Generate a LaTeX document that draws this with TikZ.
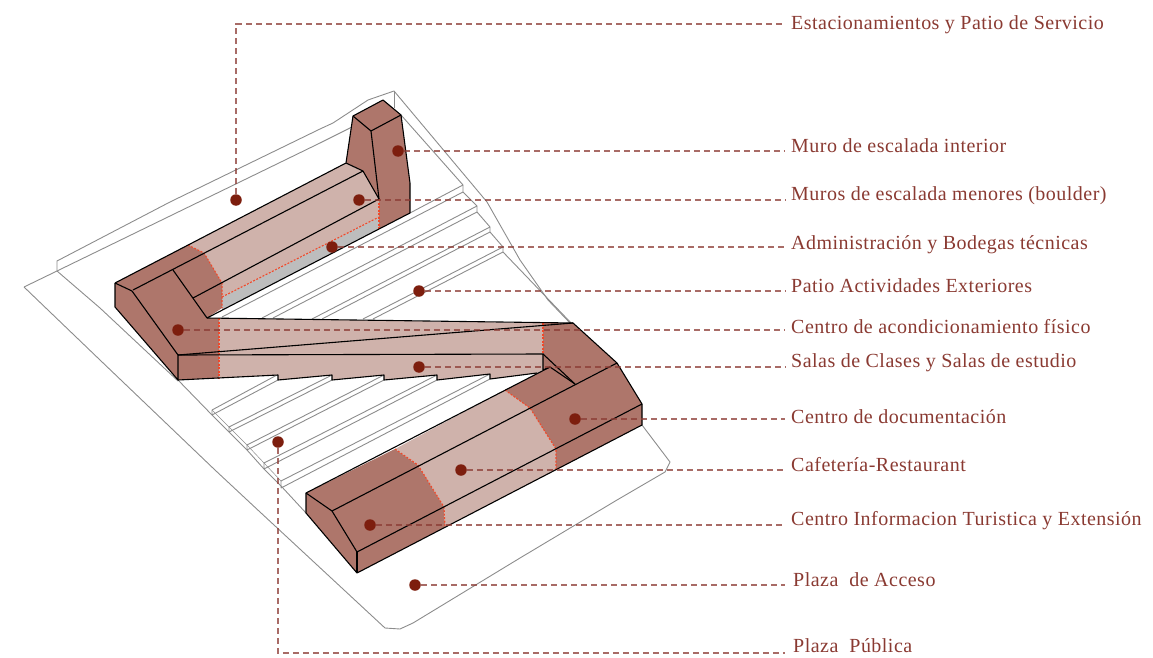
\documentclass[tikz,border=0pt]{standalone}
\usepackage{fontspec}
\setmainfont[LetterSpace=2.4]{Liberation Serif}
\definecolor{darkb}{HTML}{AE766B}
\definecolor{lightb}{HTML}{CFB2AB}
\definecolor{grayb}{HTML}{BDBDBD}
\definecolor{dotc}{HTML}{7D1E0E}
\definecolor{leadc}{HTML}{8B3A33}
\definecolor{txtc}{HTML}{8A3A32}
\definecolor{redd}{HTML}{F0492A}
\definecolor{site}{HTML}{8C8C8C}
\tikzset{
  siteline/.style={draw=site,line width=0.9pt,line join=round},
  edge/.style={draw=black,line width=1.1pt,line join=round},
  dk/.style={fill=darkb,draw=none},
  lt/.style={fill=lightb,draw=none},
  redline/.style={draw=redd,line width=1.1pt,dash pattern=on 2pt off 1.5pt},
  leader/.style={draw=leadc,draw opacity=0.75,line width=1.15pt,dash pattern=on 6pt off 4pt},
  dotn/.style={circle,fill=dotc,inner sep=0pt,minimum size=11.5pt},
  lab/.style={anchor=base west,inner sep=0pt,text=txtc,font=\fontsize{20}{22}\selectfont}
}
\begin{document}
\begin{tikzpicture}[x=1pt,y=-1pt]
\useasboundingbox (0,0) rectangle (1153,658);
% site outlines
\draw[siteline] (57,271) -- (57,261) -- (170,202) -- (320,129) -- (333,123) -- (368,100) -- (394,91) -- (487,202) -- (520,260) -- (548,300) -- (570,323);
\draw[siteline] (394,91) -- (394,108);
\draw[siteline] (24,287) -- (57,271) -- (320,143) -- (352,127);
\draw[siteline] (24,287) -- (100,360) -- (215,470) -- (260,512) -- (385,628) -- (400,629) -- (413,623) -- (520,558) -- (617,500) -- (665,472) -- (670,462) -- (642,425);
\draw[siteline] (57,271) -- (100,308) -- (178,381);
\draw[siteline] (401,115) -- (463,185) -- (463,192) -- (477,206) -- (477,212) -- (490,227) -- (490,232) -- (503,247) -- (503,252) -- (573,325);
% upper terraces
\draw[siteline] (463,185) -- (410,213);
\draw[siteline] (463,192) -- (222,317);
\draw[siteline] (477,206) -- (262,318);
\draw[siteline] (477,212) -- (273,318);
\draw[siteline] (490,227) -- (312,319);
\draw[siteline] (490,232) -- (322,319);
\draw[siteline] (503,247) -- (363,319);
\draw[siteline] (503,252) -- (373,319);
% lower terraces
\draw[siteline] (178,380) -- (212,415) -- (229,432) -- (247,450) -- (264,469) -- (282,487) -- (306,513);
\draw[siteline,line width=0.5pt] (212,410) -- (229,427) (229,427) -- (247,445) (247,445) -- (264,463) (264,463) -- (281,481);
\draw[siteline] (212,410) -- (212,415) (212,410) -- (277,375) (212,415) -- (278,380);
\draw[siteline] (229,427) -- (229,432) (229,427) -- (332,375) (229,432) -- (332,380);
\draw[siteline] (247,445) -- (247,450) (247,445) -- (384,375) (247,450) -- (384,380);
\draw[siteline] (264,463) -- (264,469) (264,463) -- (437,375) (264,469) -- (437,380);
\draw[siteline] (281,481) -- (281,488) (281,481) -- (490,374) (281,488) -- (490,379);
% gray strip
\fill[grayb] (379,217) -- (379,229) -- (222,310) -- (222,297) -- cycle;
% upper wing
\fill[lt] (346,163) -- (363,171) -- (379,199) -- (379,217) -- (222,297) -- (222,283) -- (204,253) -- (188,245) -- cycle;
% tower
\fill[dk] (353,116) -- (383,100) -- (401,115) -- (410,183) -- (410,213) -- (379,229) -- (379,199) -- (363,171) -- (346,163) -- cycle;
% L corner
\fill[dk] (115,283) -- (188,245) -- (204,253) -- (222,283) -- (222,308) -- (207,318) -- (219,318) -- (219,378) -- (178,380) -- (115,307) -- cycle;
% central wing
\fill[lt] (219,318) -- (543,323) -- (543,370) -- (537,373) -- (490,379) -- (490,374) -- (437,380) -- (437,375) -- (384,380) -- (384,375) -- (332,380) -- (332,375) -- (278,380) -- (278,375) -- (219,378) -- cycle;
\fill[dk] (543,323) -- (573,323) -- (617,363) -- (575,384) -- (550,367) -- (543,370) -- cycle;
% lower wing
\fill[dk] (306,493) -- (395,449) -- (418,465) -- (444,507) -- (445,527) -- (357,573) -- (306,513) -- cycle;
\fill[lt] (395,449) -- (505,390) -- (530,408) -- (556,449) -- (556,470) -- (445,527) -- (444,507) -- (418,465) -- cycle;
\fill[dk] (505,390) -- (550,367) -- (575,384) -- (617,363) -- (642,404) -- (642,425) -- (556,470) -- (556,449) -- (530,408) -- cycle;
% red boundaries
\draw[redline] (188,245) -- (204,253) -- (222,283) -- (222,308);
\draw[redline] (222,297) -- (379,217);
\draw[redline] (379,199) -- (379,229);
\draw[redline] (219,318) -- (219,378);
\draw[redline] (543,323) -- (543,354);
\draw[redline] (395,449) -- (418,465) -- (444,507) -- (445,527);
\draw[redline] (505,390) -- (530,408) -- (556,449) -- (556,470);
% edges
\draw[edge] (115,283) -- (346,163) -- (353,116) -- (383,100) -- (401,115) -- (410,183) -- (410,213) -- (379,229) -- (207,318);
\draw[edge] (353,116) -- (371,131) -- (401,115);
\draw[edge] (371,131) -- (379,199);
\draw[edge] (346,163) -- (363,171) -- (379,199) -- (193,298);
\draw[edge] (363,171) -- (133,290);
\draw[edge] (115,283) -- (115,307) -- (178,380) -- (178,355);
\draw[edge] (115,283) -- (132,291) -- (178,355);
\draw[edge] (173,270) -- (207,318);
\draw[edge] (207,318) -- (573,323) -- (617,363) -- (642,404) -- (642,425) -- (357,573) -- (306,513) -- (306,493) -- (550,367) -- (575,384);
\draw[edge] (178,355) -- (573,323);
\draw[edge] (178,355) -- (543,354) -- (543,370) -- (550,367);
\draw[edge] (543,354) -- (575,384);
\draw[edge] (178,380) -- (278,375) -- (278,380) -- (332,375) -- (332,380) -- (384,375) -- (384,380) -- (437,375) -- (437,380) -- (490,374) -- (490,379) -- (537,373);
\draw[edge] (617,363) -- (332,511) -- (306,493);
\draw[edge] (332,511) -- (357,552) -- (642,404);
\draw[edge] (357,552) -- (357,573);
% labels
\node[lab] (l1) at (791,30) {Estacionamientos y Patio de Servicio};
\node[lab] (l2) at (791,153) {Muro de escalada interior};
\node[lab] (l3) at (791,200) {Muros de escalada menores (boulder)};
\node[lab] (l4) at (791,249) {Administración y Bodegas técnicas};
\node[lab] (l5) at (791,292) {Patio Actividades Exteriores};
\node[lab] (l6) at (791,333) {Centro de acondicionamiento físico};
\node[lab] (l7) at (791,367) {Salas de Clases y Salas de estudio};
\node[lab] (l8) at (791,423) {Centro de documentación};
\node[lab] (l9) at (791,471) {Cafetería-Restaurant};
\node[lab] (l10) at (791,525) {Centro Informacion Turistica y Extensión};
\node[lab] (l11) at (793,586) {Plaza\ \ de Acceso};
\node[lab] (l12) at (793,652) {Plaza\ \ Pública};
% leaders
\coordinate (e1) at (785,24); \coordinate (b1) at (236,24);
\coordinate (e2) at (785,151);
\coordinate (e3) at (785,200);
\coordinate (e4) at (785,247);
\coordinate (e5) at (785,291);
\coordinate (e6) at (785,330);
\coordinate (e7) at (785,367);
\coordinate (e8) at (785,419);
\coordinate (e9) at (785,470);
\coordinate (e10) at (785,525);
\coordinate (e11) at (785,585);
\coordinate (e12) at (785,653); \coordinate (b12) at (278,653);
\node[dotn] (d1) at (236,200) {};
\node[dotn] (d2) at (398,151) {};
\node[dotn] (d3) at (359,200) {};
\node[dotn] (d4) at (332,247) {};
\node[dotn] (d5) at (419,291) {};
\node[dotn] (d6) at (178,330) {};
\node[dotn] (d7) at (419,367) {};
\node[dotn] (d8) at (575,419) {};
\node[dotn] (d9) at (461,470) {};
\node[dotn] (d10) at (370,525) {};
\node[dotn] (d11) at (415,585) {};
\node[dotn] (d12) at (278,442) {};
\draw[leader] (d1) -- (b1) -- (e1);
\draw[leader] (d2) -- (e2);
\draw[leader] (d3) -- (e3);
\draw[leader] (d4) -- (e4);
\draw[leader] (d5) -- (e5);
\draw[leader] (d6) -- (e6);
\draw[leader] (d7) -- (e7);
\draw[leader] (d8) -- (e8);
\draw[leader] (d9) -- (e9);
\draw[leader] (d10) -- (e10);
\draw[leader] (d11) -- (e11);
\draw[leader] (d12) -- (b12) -- (e12);
\end{tikzpicture}
\end{document}
